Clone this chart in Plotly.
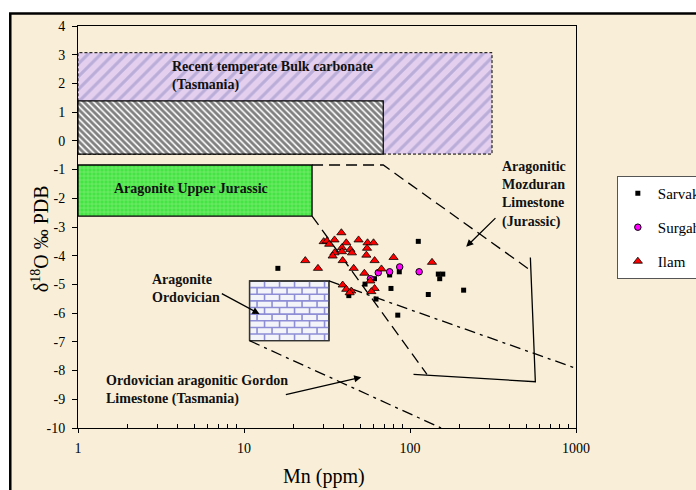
import numpy as np
import plotly.graph_objects as go

# ---------------- data ----------------
sarvak_mn = [16.0, 112.2, 86.2, 75.4, 76.8, 62.4, 84.4, 128.9, 148.1, 157.6, 151.0, 210.4, 42.8, 53.6, 61.1]
sarvak_o = [-4.44, -3.50, -4.56, -4.67, -5.14, -5.51, -6.07, -5.35, -4.64, -4.64, -4.80, -5.20, -5.39, -4.99, -4.80]

surgah_mn = [57.7, 64.4, 75.4, 86.7, 113.5]
surgah_o = [-4.80, -4.59, -4.56, -4.39, -4.56]

ilam_mn = [38.6, 30.2, 31.6, 32.6, 35.1, 41.3, 49.0, 55.5, 60.3, 38.9, 43.7, 55.1, 35.1, 38.9, 44.7,
           34.2, 54.6, 39.3, 23.4, 61.2, 27.9, 45.8, 53.1, 67.3, 57.7, 39.3, 41.3, 44.3, 43.3, 61.2,
           58.5, 79.6, 135.7]
ilam_o = [-3.20, -3.51, -3.49, -3.60, -3.45, -3.55, -3.45, -3.55, -3.55, -3.72, -3.78, -3.74, -3.90, -3.86, -3.90,
          -4.01, -3.98, -4.17, -4.17, -4.17, -4.44, -4.44, -4.61, -4.46, -4.88, -5.02, -5.17, -5.23, -5.29, -5.14,
          -5.25, -4.06, -4.23]

# field boxes: [x0, x1, y0, y1]
box_bulk = [1, 312, -0.46, 3.07]
box_black = [1, 69, -0.46, 1.39]
box_jur = [1, 25.7, -2.62, -0.84]
box_ord = [10.8, 32.5, -6.96, -4.88]

# field boundary lines
moz_dash1_x = [25.7, 69, 518]
moz_dash1_y = [-0.84, -0.84, -4.46]
moz_solid_x = [531, 569, 105]
moz_solid_y = [-4.06, -8.39, -8.13]
moz_dash2_x = [25.7, 126.5]
moz_dash2_y = [-2.62, -8.13]
gordon_a_x = [10.8, 154]
gordon_a_y = [-6.96, -10.0]
gordon_b_x = [32.5, 1000]
gordon_b_y = [-4.88, -7.92]

# arrows: (tail_x, tail_y, head_x, head_y)
arrows = [(7.2, -5.29, 12.4, -6.03),
          (17.5, -8.85, 50.9, -8.23),
          (334, -2.64, 218, -3.69)]

# labels: (text, x, y)
labels = [("Recent temperate Bulk carbonate<br>(Tasmania)", 3.6, 2.27),
          ("Aragonite Upper Jurassic", 1.60, -1.65),
          ("Aragonite<br>Ordovician", 2.70, -5.14),
          ("Ordovician aragonitic Gordon<br>Limestone (Tasmania)", 1.43, -8.68),
          ("Aragonitic<br>Mozduran<br>Limestone<br>(Jurassic)", 350, -1.88)]

y_ticks = list(range(4, -11, -1))
y_ticktext = [str(v) for v in y_ticks]
x_ticks = [1, 10, 100, 1000]
x_ticktext = ["1", "10", "100", "1000"]
x_minor = [k * 10 ** d for d in range(3) for k in range(2, 10)]

FONT = "Liberation Serif"
BG = "#F9EFD8"

fig = go.Figure()


def rect_xy(b):
    x0, x1, y0, y1 = b
    return [x0, x1, x1, x0, x0], [y0, y0, y1, y1, y0]


# purple hatched box
x, y = rect_xy(box_bulk)
fig.add_trace(go.Scatter(x=x, y=y, mode="lines", fill="toself", fillcolor="#E4CFEF",
                         fillpattern=dict(shape="/", bgcolor="#E4CFEF", fgcolor="#8F8CC2", size=9, solidity=0.35),
                         line=dict(color="black", width=1, dash="3px,2px"), showlegend=False, hoverinfo="skip"))
# black hatched box
x, y = rect_xy(box_black)
fig.add_trace(go.Scatter(x=x, y=y, mode="lines", fill="toself", fillcolor="white",
                         fillpattern=dict(shape="\\", bgcolor="white", fgcolor="black", size=4.5, solidity=0.62),
                         line=dict(color="black", width=1.2), showlegend=False, hoverinfo="skip"))
# green box
x, y = rect_xy(box_jur)
fig.add_trace(go.Scatter(x=x, y=y, mode="lines", fill="toself", fillcolor="#44E444",
                         fillpattern=dict(shape="+", bgcolor="#44E444", fgcolor="#C4F8A8", size=4, solidity=0.3),
                         line=dict(color="black", width=1.3), showlegend=False, hoverinfo="skip"))
# brick box
x, y = rect_xy(box_ord)
fig.add_trace(go.Scatter(x=x, y=y, mode="lines", fill="toself", fillcolor="#F3F3FA",
                         line=dict(color="#333333", width=1.3), showlegend=False, hoverinfo="skip"))
# brick texture lines
bx0, bx1, by0, by1 = box_ord
lx0, lx1 = np.log10(bx0), np.log10(bx1)
nrows = 9
dy = (by1 - by0) / nrows
bw = 15 / 166.0
bxs, bys = [], []
for r in range(1, nrows):
    yy = by0 + r * dy
    bxs += [bx0, bx1, None]
    bys += [yy, yy, None]
for r in range(nrows):
    ya, yb = by0 + r * dy, by0 + (r + 1) * dy
    off = bw * (0.5 if r % 2 else 1.0)
    lx = lx0 + off
    while lx < lx1 - 0.01:
        xv = 10 ** lx
        bxs += [xv, xv, None]
        bys += [ya, yb, None]
        lx += bw
fig.add_trace(go.Scatter(x=bxs, y=bys, mode="lines", line=dict(color="#8E8ED6", width=1.6),
                         showlegend=False, hoverinfo="skip"))
x, y = rect_xy(box_ord)
fig.add_trace(go.Scatter(x=x, y=y, mode="lines", line=dict(color="#333333", width=1.3),
                         showlegend=False, hoverinfo="skip"))

# boundary lines
DASH = "11px,6px"
DASHDOT = "11px,5px,3px,5px"
for xs, ys, d in [(moz_dash1_x, moz_dash1_y, DASH), (moz_dash2_x, moz_dash2_y, DASH),
                  (moz_solid_x, moz_solid_y, "solid"),
                  (gordon_a_x, gordon_a_y, DASHDOT), (gordon_b_x, gordon_b_y, DASHDOT)]:
    fig.add_trace(go.Scatter(x=xs, y=ys, mode="lines", line=dict(color="black", width=1.3, dash=d),
                             showlegend=False, hoverinfo="skip"))

# data
fig.add_trace(go.Scatter(x=sarvak_mn, y=sarvak_o, mode="markers", name="Sarvak", legendgroup="a",
                         marker=dict(symbol="square", size=5, color="black")))
fig.add_trace(go.Scatter(x=surgah_mn, y=surgah_o, mode="markers", name="Surgah", legendgroup="b",
                         marker=dict(symbol="circle", size=6.5, color="#FF00FF", line=dict(color="black", width=1))))
fig.add_trace(go.Scatter(x=ilam_mn, y=ilam_o, mode="markers", name="Ilam", legendgroup="c",
                         marker=dict(symbol="triangle-up", size=8, color="#FF0000", line=dict(color="black", width=0.8))))

annotations = []
for tx, ty, hx, hy in arrows:
    annotations.append(dict(x=np.log10(hx), y=hy, ax=np.log10(tx), ay=ty, xref="x", yref="y",
                            axref="x", ayref="y", text="", showarrow=True, arrowhead=2, arrowsize=1.1,
                            arrowwidth=1.3, arrowcolor="black"))
for t, lx, ly in labels:
    annotations.append(dict(x=np.log10(lx), y=ly, xref="x", yref="y", text="<b>" + t + "</b>",
                            showarrow=False, xanchor="left", yanchor="middle", align="left",
                            font=dict(family=FONT, size=14, color="#111111")))
annotations.append(dict(x=0.494, y=-0.121, xref="paper", yref="paper", text="Mn (ppm)", showarrow=False,
                        xanchor="center", yanchor="middle", font=dict(family=FONT, size=20, color="black")))
annotations.append(dict(x=-0.076, y=0.47, xref="paper", yref="paper", text="δ<sup>18</sup>O ‰ PDB",
                        showarrow=False, textangle=-90, xanchor="center", yanchor="middle",
                        font=dict(family=FONT, size=20, color="black")))

fig.update_layout(
    width=696, height=490,
    margin=dict(l=78, r=120, t=26, b=62, autoexpand=False),
    paper_bgcolor="white", plot_bgcolor=BG,
    font=dict(family=FONT, size=14, color="black"),
    annotations=annotations,
    shapes=[dict(type="rect", xref="paper", yref="paper", x0=-0.136, x1=1.6, y0=-0.6, y1=1.031,
                 line=dict(color="black", width=2.5), fillcolor=BG, layer="below")],
    legend=dict(x=1.082, y=0.627, xanchor="left", yanchor="top", bgcolor="white",
                bordercolor="#555555", borderwidth=1, font=dict(family=FONT, size=15),
                traceorder="grouped", tracegroupgap=11.5, itemwidth=30),
    showlegend=True,
)
fig.update_xaxes(type="log", range=[0, 3], tickvals=x_ticks, ticktext=x_ticktext,
                 showgrid=False, zeroline=False, showline=True, linecolor="black", linewidth=1, mirror=True,
                 ticks="outside", ticklen=4, tickcolor="black", ticklabelstandoff=3,
                 tickfont=dict(family=FONT, size=14),
                 minor=dict(tickvals=x_minor, ticks="inside", ticklen=4, tickcolor="black", showgrid=False))
fig.update_yaxes(range=[-10, 4], tickvals=y_ticks, ticktext=y_ticktext,
                 showgrid=False, zeroline=False, showline=True, linecolor="black", linewidth=1, mirror=True,
                 ticks="outside", ticklen=5, tickcolor="black", ticklabelstandoff=4,
                 tickfont=dict(family=FONT, size=14))

fig.write_html("out.html")
